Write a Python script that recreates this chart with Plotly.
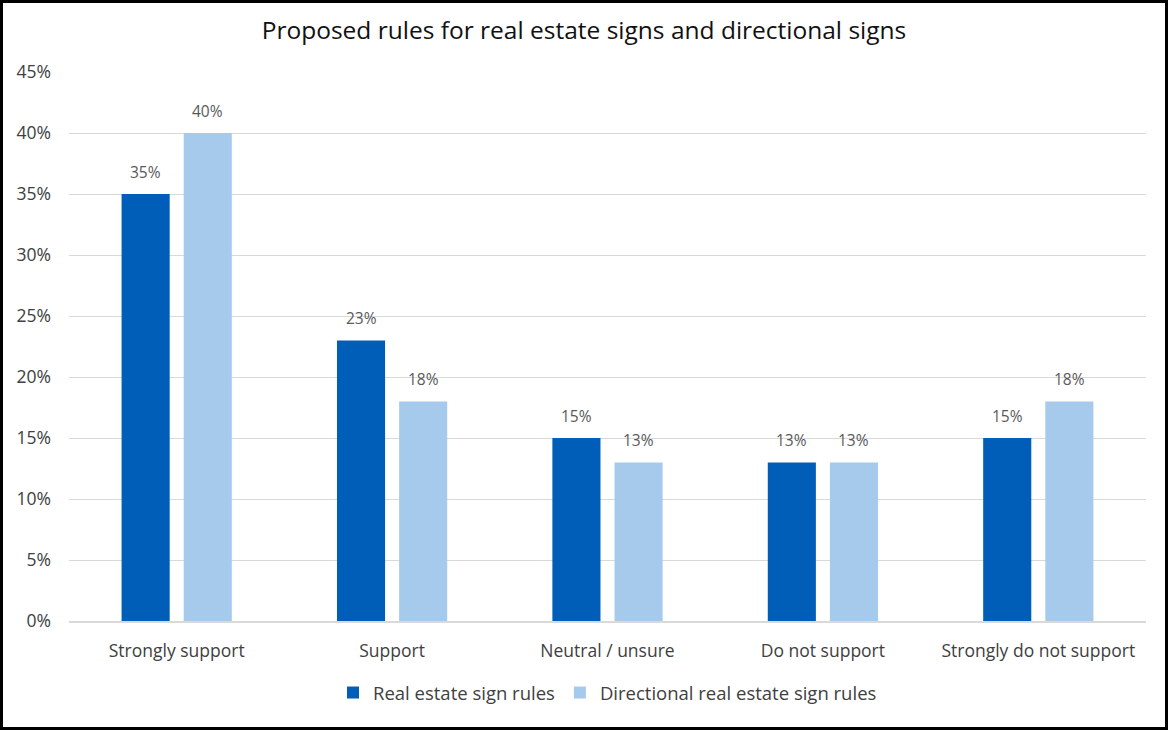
import plotly.graph_objects as go

categories = ["Strongly support", "Support", "Neutral / unsure", "Do not support", "Strongly do not support"]
real_estate = [35, 23, 15, 13, 15]
directional = [40, 18, 13, 13, 18]
series_names = ["Real estate sign rules", "Directional real estate sign rules"]
tick_vals = [0, 5, 10, 15, 20, 25, 30, 35, 40, 45]
tick_text = [f"{v}%" for v in tick_vals]

W, H = 1168, 730
ml, mr, mt, mb = 69, 22, 72, 109
pw, ph = W - ml - mr, H - mt - mb

FONT = "Open Sans, Lato, sans-serif"
LABEL = "#595959"
TXT = "#404040"

fig = go.Figure()
fig.add_trace(go.Bar(
    x=categories, y=real_estate, name=series_names[0],
    marker=dict(color="#005EB8", line=dict(width=0)),
))
fig.add_trace(go.Bar(
    x=categories, y=directional, name=series_names[1],
    marker=dict(color="#A6CAEC", line=dict(width=0)),
))

# data labels above bars (offset to each bar of the group)
for vals, dx in ((real_estate, -31), (directional, 31)):
    for c, v in zip(categories, vals):
        fig.add_annotation(x=c, y=v, xref="x", yref="y", text=f"{v}%",
                           showarrow=False, xshift=dx, yshift=22, yanchor="middle",
                           font=dict(size=15.5, color=LABEL, family=FONT))

# black outer border
fig.add_shape(type="rect", xref="paper", yref="paper",
              x0=(-ml + 1.5) / pw, x1=(pw + mr - 1.5) / pw,
              y0=(-mb + 1.5) / ph, y1=(ph + mt - 1.5) / ph,
              line=dict(color="black", width=3), fillcolor="rgba(0,0,0,0)", layer="above")

fig.update_layout(
    width=W, height=H,
    margin=dict(l=ml, r=mr, t=mt, b=mb),
    paper_bgcolor="white", plot_bgcolor="white",
    barmode="group", bargap=0.423, bargroupgap=0.226,
    font=dict(family=FONT, color=TXT),
    title=dict(text="Proposed rules for real estate signs and directional signs",
               x=0.5, xanchor="center", y=1 - 30 / H, yanchor="middle",
               font=dict(size=24.5, color="#111111", family=FONT)),
    legend=dict(orientation="h", x=0.5, xanchor="center", y=-(693 - 621) / ph, yanchor="middle",
                font=dict(size=18.5, color=TXT, family=FONT), itemwidth=30,
                traceorder="normal"),
    showlegend=True,
)
fig.update_xaxes(showgrid=False, showline=True, linecolor="#D9D9D9", linewidth=1.5,
                 ticks="", ticklabelstandoff=13,
                 tickfont=dict(size=17.5, color=TXT, family=FONT))
fig.update_yaxes(range=[0, 45], tickvals=tick_vals, ticktext=tick_text,
                 showgrid=True, gridcolor="#D9D9D9", gridwidth=1.3, zeroline=False,
                 showline=False, ticks="", ticklabelstandoff=17,
                 tickfont=dict(size=17.5, color=TXT, family=FONT))

fig.write_html("out.html", config={"displayModeBar": False},
               post_script="document.body.style.margin='0';document.body.style.overflow='hidden';")
